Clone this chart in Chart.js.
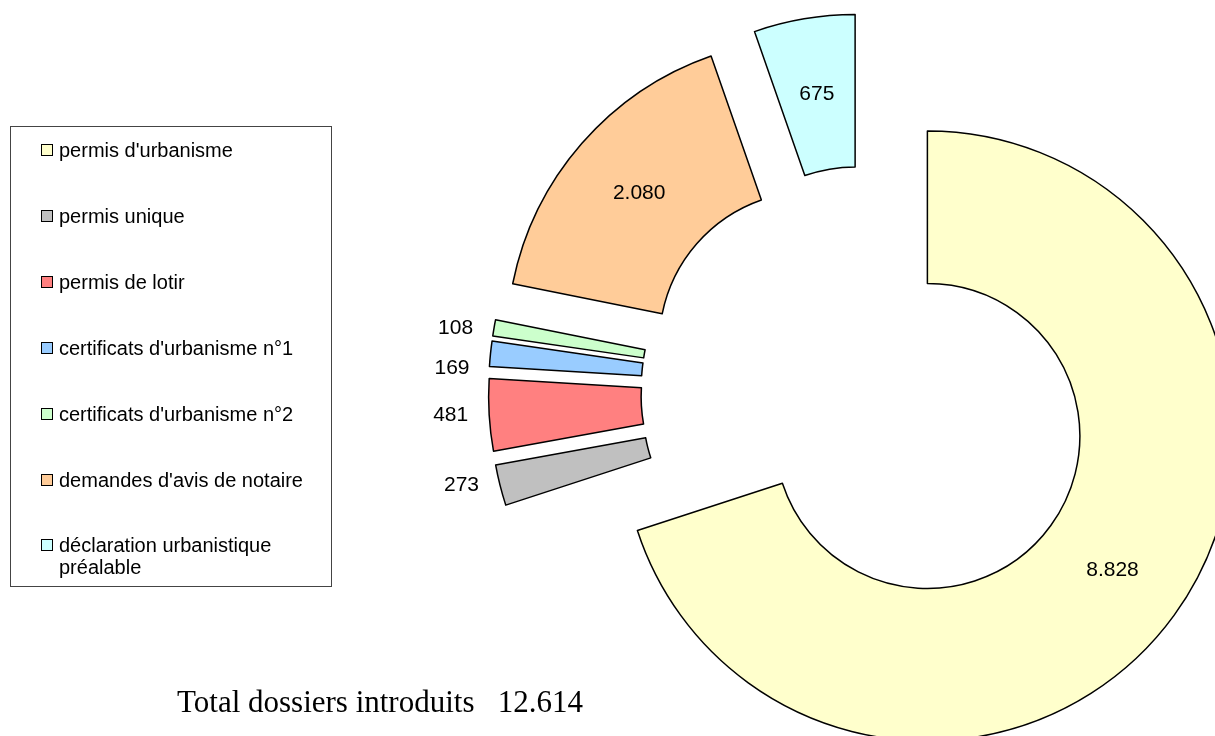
<!DOCTYPE html>
<html>
<head>
<meta charset="utf-8">
<script src="https://cdn.jsdelivr.net/npm/chart.js@4"></script>
<style>
  html, body { margin: 0; padding: 0; background: #fff; }
  #wrap { position: relative; width: 1215px; height: 736px; overflow: hidden; }
  #chart { position: absolute; left: 0; top: 0; }
  #legend {
    position: absolute; left: 10px; top: 126px; width: 320px; height: 459px;
    border: 1px solid #444;
    font-family: "Liberation Sans", Arial, sans-serif; font-size: 20px; color: #000;
  }
  .item { position: absolute; left: 30px; line-height: 22px; }
  .box { position: absolute; left: 0; top: 5px; width: 10px; height: 10px; border: 1px solid #000; }
  .txt { position: absolute; left: 18px; top: 0; width: 250px; }
  #total {
    position: absolute; left: 177px; top: 686px;
    font-family: "Liberation Serif", "Times New Roman", serif; font-size: 31px; line-height: 31px;
    white-space: pre; color: #000;
  }
</style>
</head>
<body>
<div id="wrap">
  <canvas id="chart" width="1215" height="736"></canvas>
  <div id="legend"></div>
  <div id="total"></div>
</div>
<script>
// data
const labels = ["permis d'urbanisme", "permis unique", "permis de lotir",
  "certificats d'urbanisme n°1", "certificats d'urbanisme n°2",
  "demandes d'avis de notaire", "déclaration urbanistique préalable"];
const dossiers = [8828, 273, 481, 169, 108, 2080, 675];
const colors = ['#FFFFCC', '#C0C0C0', '#FF8080', '#99CCFF', '#CCFFCC', '#FFCC99', '#CCFFFF'];

const explode = 74;          // px every slice is pulled out of the centre
const labelNudgeY = {3: 15}; // 169 sits a bit lower in the original

function fmt(n) {
  return String(n).replace(/\B(?=(\d{3})+(?!\d))/g, '.');
}

// legend + total as html
const legend = document.getElementById('legend');
labels.forEach((lab, i) => {
  const item = document.createElement('div');
  item.className = 'item';
  item.style.top = (23 + i * 65.9 - 11) + 'px';
  item.innerHTML = '<div class="box" style="background:' + colors[i] + '"></div><div class="txt"></div>';
  item.querySelector('.txt').textContent = lab;
  legend.appendChild(item);
});
const total = dossiers.reduce((a, b) => a + b, 0);
document.getElementById('total').textContent = 'Total dossiers introduits   ' + fmt(total);

// excel style explode: move every arc out along its middle angle, same ring size
// (chart.js "offset" also grows and narrows the arcs, which the original does not)
const explodeSlices = {
  id: 'explodeSlices',
  afterDatasetUpdate(chart, args) {
    args.meta.data.forEach(arc => {
      const mid = (arc.startAngle + arc.endAngle) / 2;
      arc.x += Math.cos(mid) * explode;
      arc.y += Math.sin(mid) * explode;
    });
  }
};

// value labels: inside the big slices, outside on the left for the thin ones
const sliceLabels = {
  id: 'sliceLabels',
  afterDatasetsDraw(chart) {
    const ctx = chart.ctx;
    const meta = chart.getDatasetMeta(0);
    ctx.save();
    ctx.font = '21px "Liberation Sans", Arial, sans-serif';
    ctx.fillStyle = '#000';
    ctx.textBaseline = 'middle';
    meta.data.forEach((arc, i) => {
      const mid = (arc.startAngle + arc.endAngle) / 2;
      const text = fmt(dossiers[i]);
      if (arc.circumference > 0.3) {
        const r = (arc.innerRadius + arc.outerRadius) / 2;
        ctx.textAlign = 'center';
        ctx.fillText(text, arc.x + Math.cos(mid) * r, arc.y + Math.sin(mid) * r);
      } else {
        const r = arc.outerRadius;
        ctx.textAlign = 'right';
        ctx.fillText(text, arc.x + Math.cos(mid) * r - 21, arc.y + Math.sin(mid) * r + (labelNudgeY[i] || 0));
      }
    });
    ctx.restore();
  }
};

new Chart(document.getElementById('chart'), {
  type: 'doughnut',
  data: {
    labels: labels,
    datasets: [{
      data: dossiers,
      backgroundColor: colors,
      borderColor: '#000',
      borderWidth: 1.5,
      borderJoinStyle: 'round',
      clip: false
    }]
  },
  options: {
    responsive: false,
    animation: false,
    devicePixelRatio: 1,
    radius: 305,
    cutout: '50%',
    layout: { padding: { left: 520, top: 49, right: 0, bottom: 0 } },
    plugins: {
      legend: { display: false },
      tooltip: { enabled: false }
    }
  },
  plugins: [explodeSlices, sliceLabels]
});
</script>
</body>
</html>
